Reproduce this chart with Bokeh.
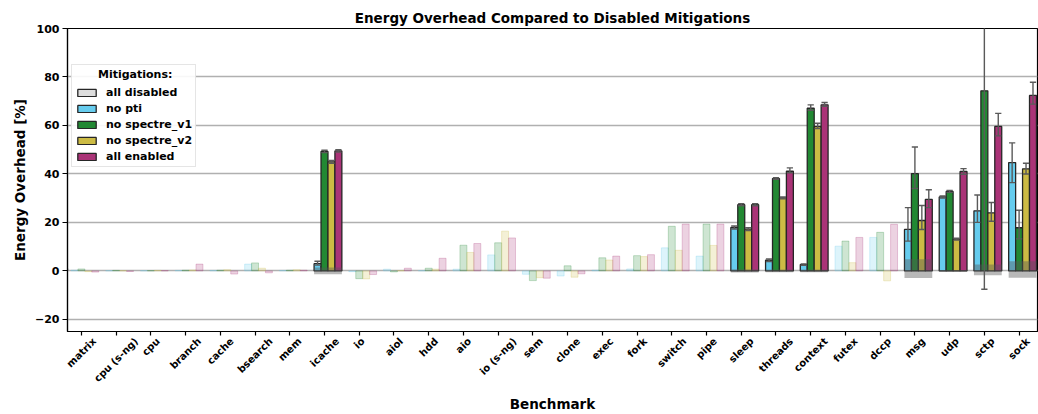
import math
from bokeh.plotting import figure
from bokeh.models import (FixedTicker, Range1d, Legend, LegendItem, LinearAxis)
from bokeh.embed import file_html
from bokeh.resources import INLINE

benchmarks = ["matrix", "cpu (s-ng)", "cpu", "branch", "cache", "bsearch", "mem", "icache",
              "io", "aiol", "hdd", "aio", "io (s-ng)", "sem", "clone", "exec", "fork",
              "switch", "pipe", "sleep", "threads", "context", "futex", "dccp", "msg",
              "udp", "sctp", "sock"]

no_pti = [0.3, 0.1, 0.1, 0.2, 0.2, 2.8, 0.2, 3.0, -0.3, 0.7, 0.1, 0.7, 6.6, -1.4, -2.1, 0.3,
          0.8, 9.5, 6.1, 17.9, 4.4, 2.6, 10.2, 13.8, 17.1, 30.5, 24.8, 44.7]
no_spectre_v1 = [0.8, 0.2, 0.1, 0.3, 0.3, 3.3, 0.3, 49.3, -3.2, -0.4, 1.1, 10.6, 11.6, -4.0,
                 2.1, 5.4, 6.3, 18.4, 19.3, 27.3, 38.1, 67.1, 12.3, 15.9, 40.1, 32.8, 74.3, 17.8]
no_spectre_v2 = [-0.3, 0.1, 0.2, 0.4, 0.5, 1.1, 0.5, 45.0, -3.3, 0.1, 0.7, 7.6, 16.4, -2.8,
                 -2.6, 4.5, 5.9, 8.5, 10.5, 17.2, 30.1, 59.5, 3.4, -4.1, 20.8, 13.1, 23.9, 42.1]
all_enabled = [-0.5, -0.2, 0.1, 2.8, -1.3, -0.8, 0.3, 49.5, -1.5, 1.1, 5.2, 11.3, 13.6, -3.0,
               -1.2, 6.1, 6.7, 19.3, 19.3, 27.3, 41.1, 68.5, 13.8, 19.2, 29.5, 41.0, 59.6, 72.4]

# error bar extents (upper / lower), only shown for significant benchmarks
err_hi_pti = [0, 0, 0, 0, 0, 0, 0, 1.0, 0, 0, 0, 0, 0, 0, 0, 0, 0, 0, 0, 0.6, 0.5, 0.3, 0, 0,
              9.0, 0.4, 6.5, 8.1]
err_lo_pti = [0, 0, 0, 0, 0, 0, 0, 0.6, 0, 0, 0, 0, 0, 0, 0, 0, 0, 0, 0, 0.6, 0.5, 0.3, 0, 0,
              4.8, 0.4, 4.8, 8.3]
err_hi_v1 = [0, 0, 0, 0, 0, 0, 0, 0.5, 0, 0, 0, 0, 0, 0, 0, 0, 0, 0, 0, 0.4, 0.3, 1.4, 0, 0,
             11.0, 0.4, 30.0, 7.2]
err_lo_v1 = [0, 0, 0, 0, 0, 0, 0, 0.5, 0, 0, 0, 0, 0, 0, 0, 0, 0, 0, 0, 0.4, 0.3, 0.8, 0, 0,
             6.1, 0.4, 81.9, 4.6]
err_hi_v2 = [0, 0, 0, 0, 0, 0, 0, 0.6, 0, 0, 0, 0, 0, 0, 0, 0, 0, 0, 0, 0.6, 0.4, 1.4, 0, 0,
             6.2, 0.4, 4.3, 2.3]
err_lo_v2 = [0, 0, 0, 0, 0, 0, 0, 0.6, 0, 0, 0, 0, 0, 0, 0, 0, 0, 0, 0, 0.6, 0.4, 0.8, 0, 0,
             3.7, 0.4, 3.4, 2.1]
err_hi_all = [0, 0, 0, 0, 0, 0, 0, 0.5, 0, 0, 0, 0, 0, 0, 0, 0, 0, 0, 0, 0.4, 1.4, 1.0, 0, 0,
              4.0, 1.2, 5.4, 5.4]
err_lo_all = [0, 0, 0, 0, 0, 0, 0, 0.5, 0, 0, 0, 0, 0, 0, 0, 0, 0, 0, 0, 0.4, 0.6, 0.6, 0, 0,
              3.4, 1.1, 3.9, 3.6]

# baseline ("all disabled") spread
base_lo = [0, 0, 0, 0, 0, 0, 0, -1.4, 0, 0, 0, 0, 0, 0, 0, 0, 0, 0, 0, -0.7, -0.6, -0.6, 0, 0,
           -2.9, -0.4, -1.8, -2.8]
base_hi = [0, 0, 0, 0, 0, 0, 0, 1.4, 0, 0, 0, 0, 0, 0, 0, 0, 0, 0, 0, 0.7, 0.6, 0.6, 0, 0,
           4.8, 0.4, 2.6, 4.0]

significant = ["icache", "sleep", "threads", "context", "msg", "udp", "sctp", "sock"]

series_names = ["no pti", "no spectre_v1", "no spectre_v2", "all enabled"]
series_colors = ["#66CCEE", "#228833", "#CCBB44", "#AA3377"]
series_values = [no_pti, no_spectre_v1, no_spectre_v2, all_enabled]
series_err_hi = [err_hi_pti, err_hi_v1, err_hi_v2, err_hi_all]
series_err_lo = [err_lo_pti, err_lo_v1, err_lo_v2, err_lo_all]
series_offsets = [-0.2, 0.0, 0.2, 0.4]
disabled_color = "#DDDDDD"

y_ticks = [-20, 0, 20, 40, 60, 80, 100]

FONT = "DejaVu Sans"
BAR_W = 0.2
X_LO, X_HI = -0.4, 27.53

p = figure(width=1038, height=414, x_range=Range1d(X_LO, X_HI), y_range=Range1d(-25, 100),
           output_backend="svg", toolbar_location=None,
           min_border_left=67, min_border_right=1, min_border_top=28, min_border_bottom=83,
           title="Energy Overhead Compared to Disabled Mitigations")
p.background_fill_color = "white"
p.border_fill_color = "white"
p.outline_line_color = "black"
p.outline_line_width = 1.2

p.title.align = "center"
p.title.text_font = FONT
p.title.text_font_size = "13.5px"
p.title.text_font_style = "bold"
p.title.text_color = "black"
p.title.standoff = 6

# grid
p.xgrid.visible = False
p.ygrid.ticker = FixedTicker(ticks=y_ticks)
p.ygrid.grid_line_color = "#b0b0b0"
p.ygrid.grid_line_width = 1.3

# y axis
p.yaxis.ticker = FixedTicker(ticks=y_ticks)
p.yaxis.major_label_overrides = {t: (("\u2212" + str(-t)) if t < 0 else str(t)) for t in y_ticks}
p.yaxis.axis_label = "Energy Overhead [%]"
p.yaxis.axis_label_text_font = FONT
p.yaxis.axis_label_text_font_size = "13.5px"
p.yaxis.axis_label_text_font_style = "bold"
p.yaxis.axis_label_text_color = "black"
p.yaxis.axis_label_standoff = 4
p.yaxis.major_label_text_font = FONT
p.yaxis.major_label_text_font_size = "11px"
p.yaxis.major_label_text_font_style = "bold"
p.yaxis.major_label_text_color = "black"
p.yaxis.major_label_standoff = 3
p.yaxis.major_tick_out = 5
p.yaxis.major_tick_in = 0
p.yaxis.minor_tick_line_color = None
p.yaxis.axis_line_color = "black"
p.yaxis.axis_line_width = 1.2
p.yaxis.major_tick_line_width = 1.2

# x axis: ticks only (labels drawn by a second, label-only axis below)
idx = list(range(len(benchmarks)))
p.xaxis.ticker = FixedTicker(ticks=idx)
p.xaxis.major_label_overrides = {i: "" for i in idx}
p.xaxis.major_label_standoff = 0
p.xaxis.major_label_text_font_size = "1px"
p.xaxis.major_tick_out = 4
p.xaxis.major_tick_in = 0
p.xaxis.minor_tick_line_color = None
p.xaxis.axis_line_color = "black"
p.xaxis.axis_line_width = 1.2
p.xaxis.major_tick_line_width = 1.2

# label axis: rotated labels whose bounding box is centred on each tick
char_w = {"a": .675, "b": .716, "c": .593, "d": .716, "e": .678, "f": .435, "g": .716,
          "h": .712, "i": .343, "k": .665, "l": .343, "m": 1.042, "n": .712, "o": .687,
          "p": .716, "r": .493, "s": .595, "t": .478, "u": .712, "v": .652, "w": .924,
          "x": .645, "y": .652, " ": .348, "(": .457, ")": .457, "-": .415}
LABEL_FS = 10.0
px_per_unit = 970.0 / (X_HI - X_LO)
lab_ticks = []
lab_over = {}
for i, b in enumerate(benchmarks):
    w = sum(char_w.get(c, 0.65) for c in b) * LABEL_FS
    shift = w / (2 * math.sqrt(2)) / px_per_unit
    t = round(i + shift, 4)
    lab_ticks.append(t)
    lab_over[t] = b

lab_axis = LinearAxis(ticker=FixedTicker(ticks=lab_ticks), major_label_overrides=lab_over)
lab_axis.major_label_orientation = math.pi / 4
lab_axis.major_label_text_font = FONT
lab_axis.major_label_text_font_size = "10px"
lab_axis.major_label_text_font_style = "bold"
lab_axis.major_label_text_color = "black"
lab_axis.major_label_standoff = 4
lab_axis.major_tick_line_color = None
lab_axis.major_tick_out = 0
lab_axis.major_tick_in = 0
lab_axis.minor_tick_line_color = None
lab_axis.axis_line_color = None
lab_axis.axis_label = "Benchmark"
lab_axis.axis_label_text_font = FONT
lab_axis.axis_label_text_font_size = "13.5px"
lab_axis.axis_label_text_font_style = "bold"
lab_axis.axis_label_text_color = "black"
lab_axis.axis_label_standoff = 5
p.add_layout(lab_axis, "below")

sig_flags = [b in significant for b in benchmarks]

bold_renderers = []
for name, color, vals, off in zip(series_names, series_colors, series_values, series_offsets):
    xs_b = [i + off for i in idx if sig_flags[i]]
    ys_b = [vals[i] for i in idx if sig_flags[i]]
    xs_f = [i + off for i in idx if not sig_flags[i]]
    ys_f = [vals[i] for i in idx if not sig_flags[i]]

    p.vbar(x=xs_f, top=ys_f, bottom=0, width=BAR_W, fill_color=color, fill_alpha=0.22,
           line_color=color, line_alpha=0.25, line_width=1)
    r = p.vbar(x=xs_b, top=ys_b, bottom=0, width=BAR_W, fill_color=color,
               line_color="#262626", line_width=1.3)
    bold_renderers.append(r)

# baseline spread band (all disabled)
bx = [i + 0.1 for i in idx if sig_flags[i]]
blo = [base_lo[i] for i in idx if sig_flags[i]]
bhi = [base_hi[i] for i in idx if sig_flags[i]]
p.vbar(x=bx, top=bhi, bottom=blo, width=0.8, fill_color="#555555", fill_alpha=0.42,
       line_color=None)

# error bars
for vals, ehi, elo, off in zip(series_values, series_err_hi, series_err_lo, series_offsets):
    xs = [i + off for i in idx if sig_flags[i]]
    lo = [vals[i] - elo[i] for i in idx if sig_flags[i]]
    hi = [vals[i] + ehi[i] for i in idx if sig_flags[i]]
    p.segment(x0=xs, x1=xs, y0=lo, y1=hi, line_color="#5a5a5a", line_width=1.4)
    cap = 0.09
    p.segment(x0=[x - cap for x in xs], x1=[x + cap for x in xs], y0=lo, y1=lo,
              line_color="#5a5a5a", line_width=1.4)
    p.segment(x0=[x - cap for x in xs], x1=[x + cap for x in xs], y0=hi, y1=hi,
              line_color="#5a5a5a", line_width=1.4)

# renderer for the "all disabled" legend entry (kept outside the visible range)
dummy = p.vbar(x=[-5.0], top=[1.0], bottom=[0.0], width=BAR_W, fill_color=disabled_color,
               line_color="#262626", line_width=1.3)

items = [LegendItem(label="all disabled", renderers=[dummy])]
for name, r in zip(series_names, bold_renderers):
    items.append(LegendItem(label=name, renderers=[r]))

legend = Legend(items=items, location=(4, 164), title="\u00a0" * 6 + "Mitigations:")
legend.title_text_font = FONT
legend.title_text_font_size = "11px"
legend.title_text_font_style = "bold"
legend.title_text_color = "black"
legend.title_standoff = 4
legend.label_text_font = FONT
legend.label_text_font_size = "11px"
legend.label_text_font_style = "bold"
legend.label_text_color = "black"
legend.glyph_width = 23
legend.glyph_height = 9
legend.label_height = 14
legend.label_standoff = 8
legend.spacing = 2
legend.padding = 3
legend.margin = 0
legend.border_line_color = "#cccccc"
legend.border_line_width = 1
legend.background_fill_alpha = 0.9
p.add_layout(legend)

open("out.html", "w").write(file_html(p, INLINE))
